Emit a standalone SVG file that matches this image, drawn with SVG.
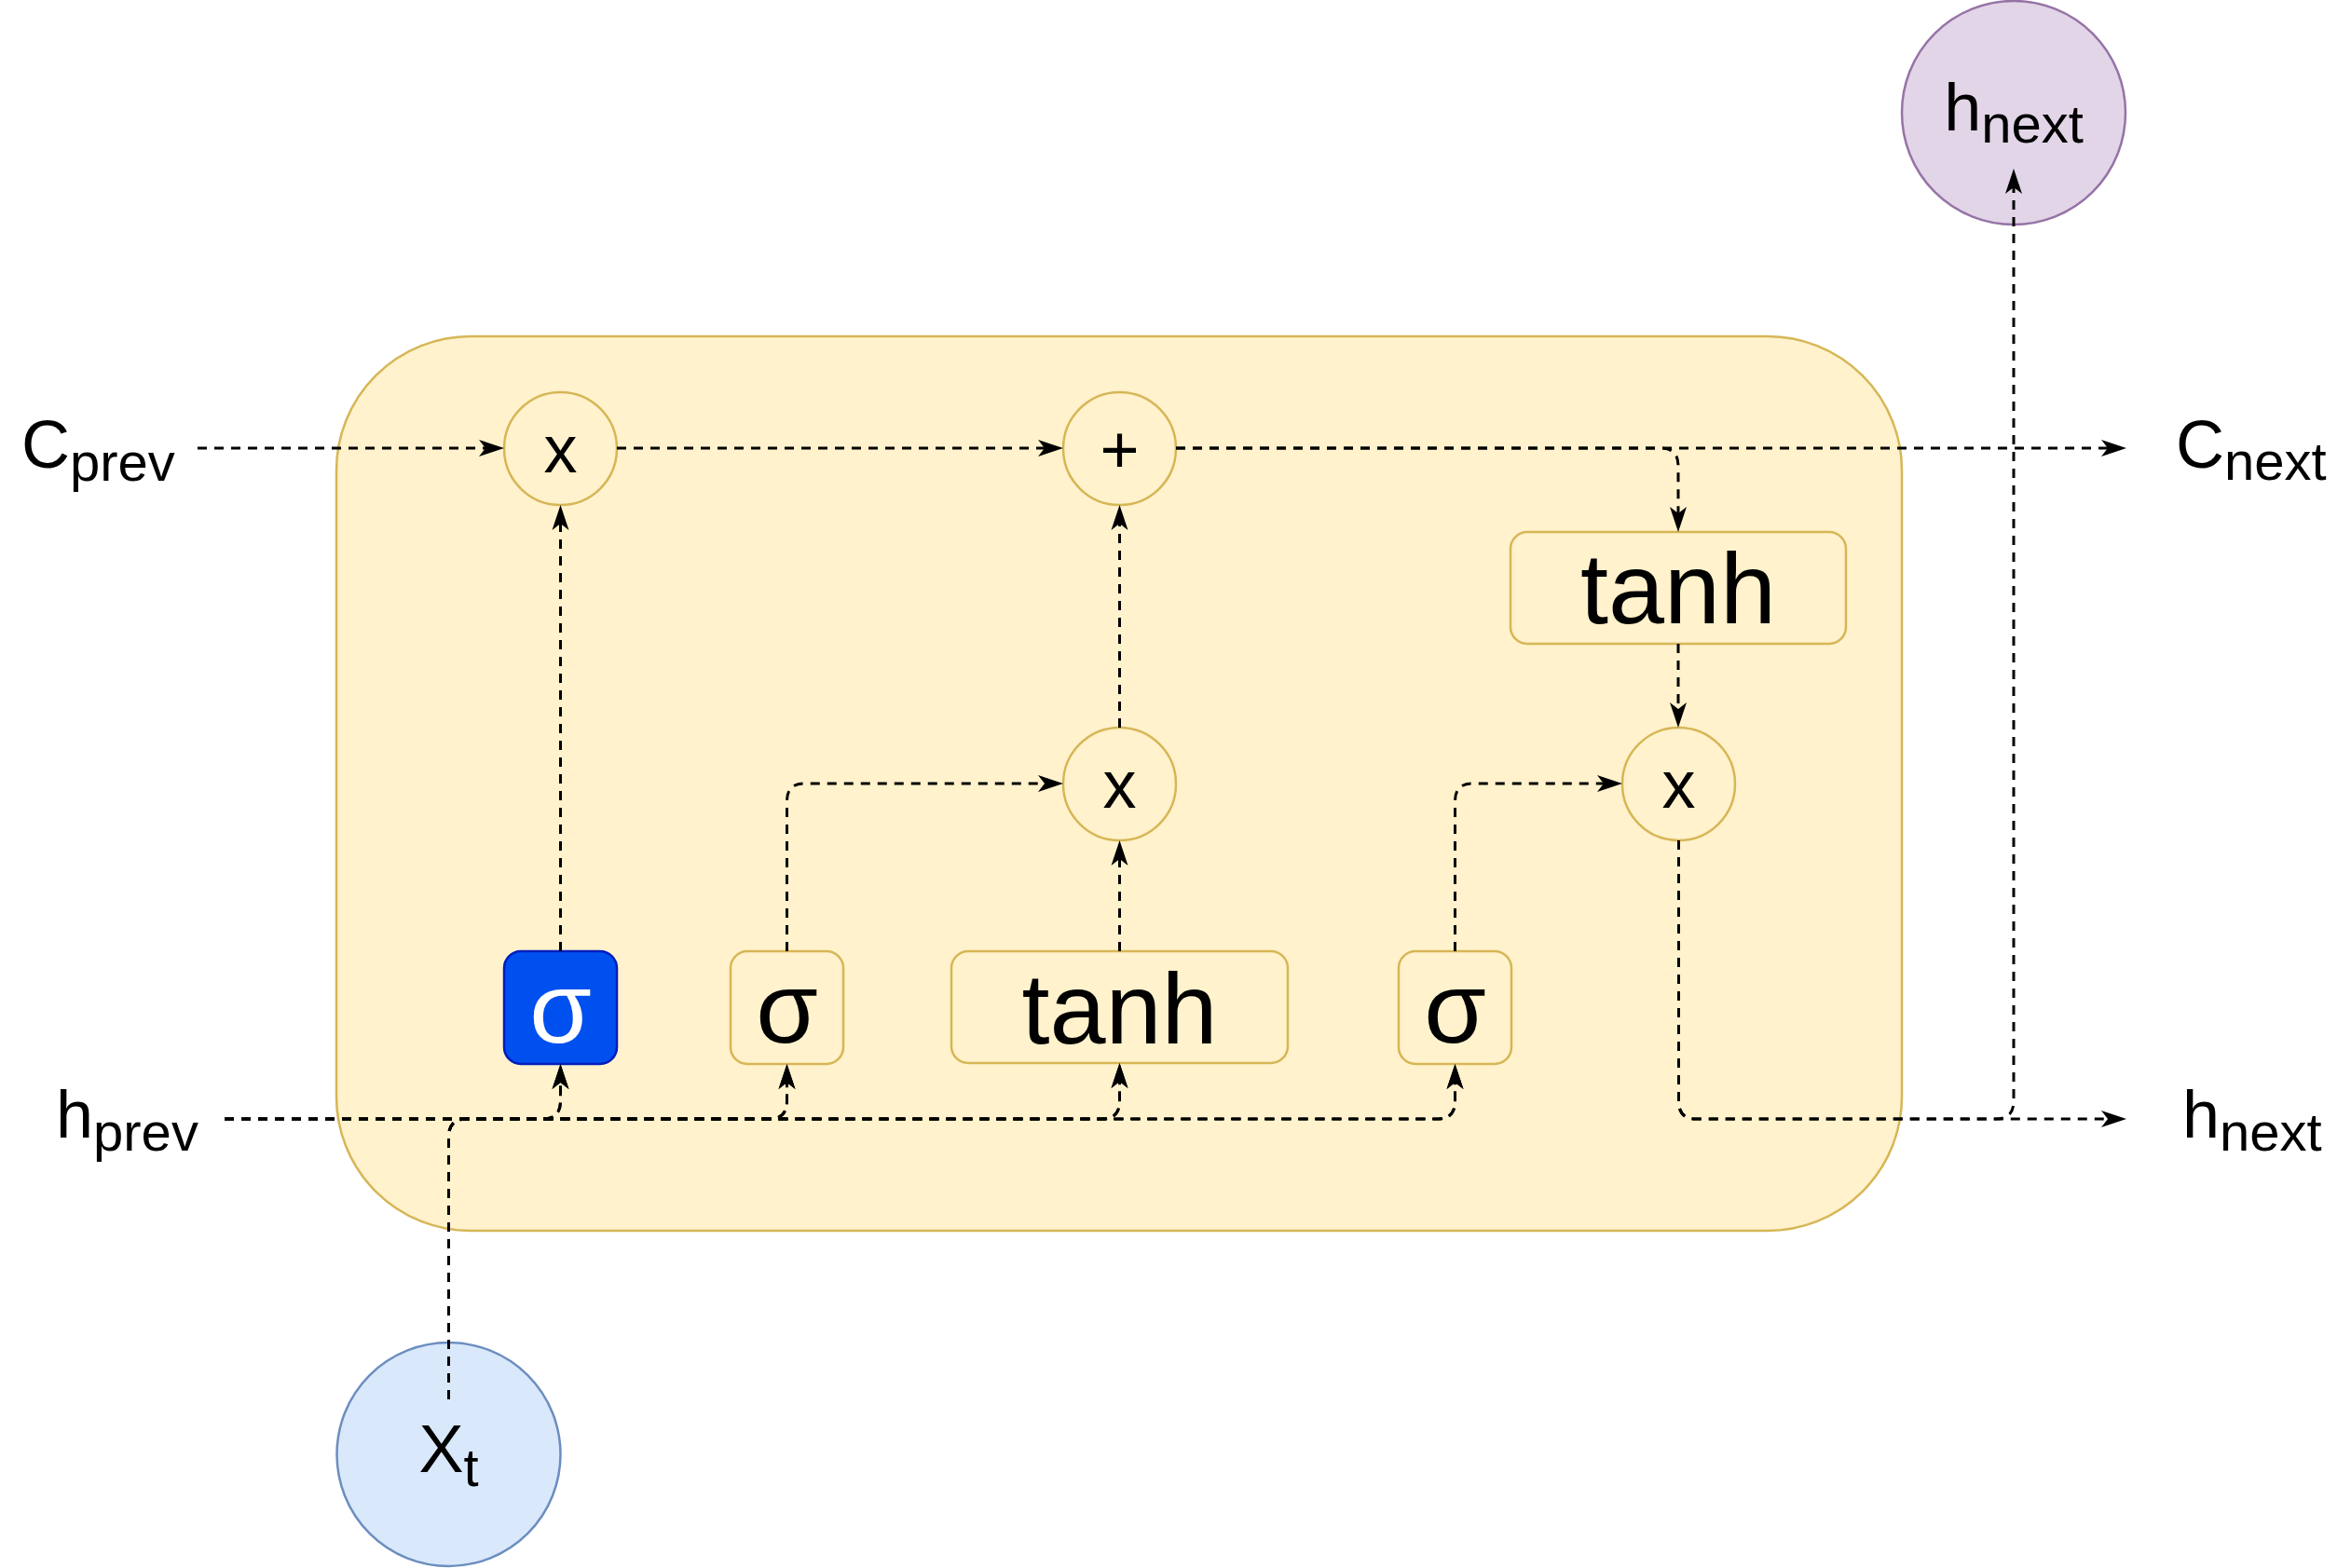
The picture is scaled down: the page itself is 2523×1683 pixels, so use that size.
<svg xmlns="http://www.w3.org/2000/svg" width="2523" height="1683" viewBox="0 0 2523 1683">
<style>
text{font-family:"Liberation Sans",Arial,Helvetica,sans-serif;fill:#000}
.gold{fill:#FFF2CC;stroke:#D6B656;stroke-width:2.5}
.big{font-size:108px}
.op{font-size:72px}
.lbl{font-size:72px}
.sub{font-size:58px}
.edge{fill:none;stroke:#000;stroke-width:3;stroke-dasharray:10 8}
</style>
<defs>
<marker id="arr" markerUnits="userSpaceOnUse" viewBox="0 -10 30 20" markerWidth="30" markerHeight="20" refX="7" refY="0" orient="auto" overflow="visible">
<path d="M0,-9 L27,0 L0,9 L7,0 Z" fill="#000"/>
</marker>
</defs>
<rect width="2523" height="1683" fill="#fff"/>
<g id="cell"><rect class="gold" x="361" y="361" width="1680" height="960" rx="144"/></g>
<g id="c_prev"><text class="lbl" x="23" y="502">C<tspan class="sub" dy="14">prev</tspan></text></g>
<g id="h_prev"><text class="lbl" x="60" y="1221">h<tspan class="sub" dy="14">prev</tspan></text></g>
<g id="c_next"><text class="lbl" x="2335" y="502">C<tspan class="sub" dy="13">next</tspan></text></g>
<g id="h_next_lbl"><text class="lbl" x="2342" y="1221">h<tspan class="sub" dy="14">next</tspan></text></g>
<g id="h_next_node"><circle cx="2161" cy="121" r="120" fill="#E1D5E7" stroke="#9673A6" stroke-width="2.5"/><text class="lbl" x="2161" y="140" text-anchor="middle">h<tspan class="sub" dy="13">next</tspan></text></g>
<g id="x_t"><circle cx="481.5" cy="1561" r="120" fill="#DAE8FC" stroke="#6C8EBF" stroke-width="2.5"/><text class="lbl" x="481.5" y="1580" text-anchor="middle">X<tspan class="sub" dy="15">t</tspan></text></g>
<g id="mul_forget"><circle class="gold" cx="601.5" cy="481.5" r="60.5"/><text class="op" x="601.5" y="507" text-anchor="middle">x</text></g>
<g id="add"><circle class="gold" cx="1201.5" cy="481.5" r="60.5"/><text class="op" x="1201.5" y="507" text-anchor="middle">+</text></g>
<g id="mul_input"><circle class="gold" cx="1201.5" cy="841.5" r="60.5"/><text class="op" x="1201.5" y="867" text-anchor="middle">x</text></g>
<g id="mul_output"><circle class="gold" cx="1801.5" cy="841.5" r="60.5"/><text class="op" x="1801.5" y="867" text-anchor="middle">x</text></g>
<g id="tanh_out"><rect class="gold" x="1621" y="571" width="360" height="120" rx="18"/><text class="big" x="1801" y="669" text-anchor="middle">tanh</text></g>
<g id="sigma_forget"><rect x="541" y="1021" width="121" height="121" rx="18" fill="#0050EF" stroke="#001DBC" stroke-width="2.5"/><text class="big" x="601.5" y="1119" text-anchor="middle" style="fill:#fff">σ</text></g>
<g id="sigma_input"><rect class="gold" x="784" y="1021" width="121" height="121" rx="18"/><text class="big" x="844.5" y="1119" text-anchor="middle">σ</text></g>
<g id="tanh_cand"><rect class="gold" x="1021" y="1021" width="361" height="120" rx="18"/><text class="big" x="1201.5" y="1120" text-anchor="middle">tanh</text></g>
<g id="sigma_output"><rect class="gold" x="1501" y="1021" width="121" height="121" rx="18"/><text class="big" x="1561.5" y="1119" text-anchor="middle">σ</text></g>
<g id="connectors" marker-end="url(#arr)">
<path class="edge" marker-end="url(#arr)" d="M212,481 H521"/>
<path class="edge" marker-end="url(#arr)" d="M662,481 H1121"/>
<path class="edge" marker-end="url(#arr)" d="M1262,481 H2262"/>
<path class="edge" marker-end="url(#arr)" d="M1262,481 H1782 Q1801,481 1801,500 V551"/>
<path class="edge" marker-end="url(#arr)" d="M1801,691 V761"/>
<path class="edge" marker-end="url(#arr)" d="M1801.5,902 V1182 Q1801.5,1201 1820,1201 H2262"/>
<path class="edge" marker-end="url(#arr)" d="M1801.5,902 V1182 Q1801.5,1201 1820,1201 H2142 Q2161,1201 2161,1182 V201"/>
<path class="edge" marker-end="url(#arr)" d="M1561.5,1021 V860 Q1561.5,841 1580,841 H1721"/>
<path class="edge" marker-end="url(#arr)" d="M844.5,1021 V860 Q844.5,841 863,841 H1121"/>
<path class="edge" marker-end="url(#arr)" d="M1201.5,1021 V922"/>
<path class="edge" marker-end="url(#arr)" d="M1201.5,781 V562"/>
<path class="edge" marker-end="url(#arr)" d="M601.5,1021 V562"/>
<path class="edge" marker-end="url(#arr)" d="M241,1201 H582.5 Q601.5,1201 601.5,1182 V1162"/>
<path class="edge" marker-end="url(#arr)" d="M241,1201 H825.5 Q844.5,1201 844.5,1182 V1162"/>
<path class="edge" marker-end="url(#arr)" d="M241,1201 H1182.5 Q1201.5,1201 1201.5,1182 V1161"/>
<path class="edge" marker-end="url(#arr)" d="M241,1201 H1542.5 Q1561.5,1201 1561.5,1182 V1162"/>
<path class="edge" marker-end="url(#arr)" d="M481.5,1502 V1220 Q481.5,1201 500.5,1201 H582.5 Q601.5,1201 601.5,1182 V1162"/>
<path class="edge" marker-end="url(#arr)" d="M481.5,1502 V1220 Q481.5,1201 500.5,1201 H825.5 Q844.5,1201 844.5,1182 V1162"/>
<path class="edge" marker-end="url(#arr)" d="M481.5,1502 V1220 Q481.5,1201 500.5,1201 H1182.5 Q1201.5,1201 1201.5,1182 V1161"/>
<path class="edge" marker-end="url(#arr)" d="M481.5,1502 V1220 Q481.5,1201 500.5,1201 H1542.5 Q1561.5,1201 1561.5,1182 V1162"/>
</g>
</svg>
